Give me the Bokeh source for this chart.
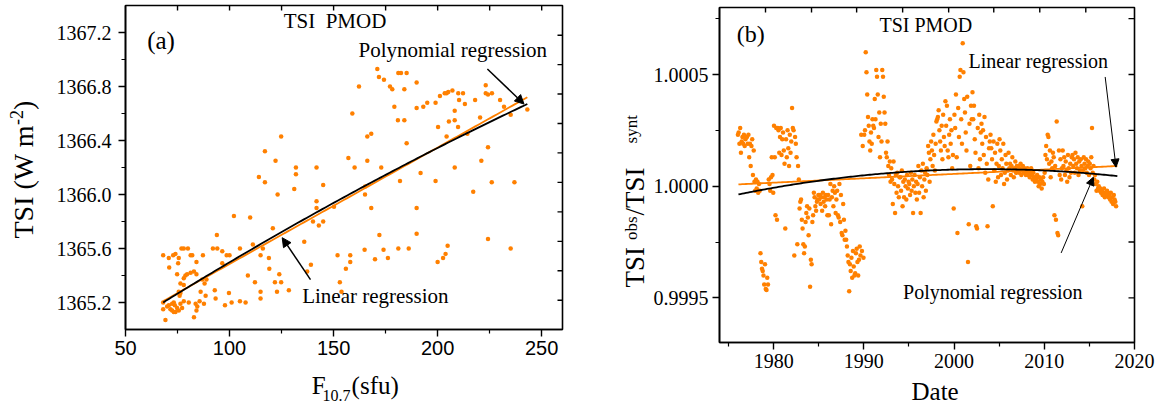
import numpy as np
from bokeh.plotting import figure
from bokeh.models import (Range1d, FixedTicker, Label, Arrow, NormalHead,
                          PrintfTickFormatter)
from bokeh.core.properties import value
from bokeh.layouts import row, column
from bokeh.embed import file_html
from bokeh.resources import INLINE

ORANGE = "#FF8000"
SERIF = "Liberation Serif"
SANS = "Liberation Sans"
MID = 0.3375  # distance (em) from the alphabetic baseline up to the middle of the text box

# ---------------- Panel (a): TSI vs F10.7 ----------------
f107 = [171.0, 171.8, 174.2, 177.1, 178.2, 179.2, 181.1, 182.4, 185.1, 184.0,
        189.9, 180.9, 184.0, 185.1, 162.2, 159.0, 166.2, 168.1, 172.9, 166.2,
        160.1, 157.1, 165.2, 165.1, 168.1, 181.9, 189.9, 189.9, 191.8, 189.9,
        193.1, 195.0, 199.0, 201.1, 203.4, 204.3, 205.1, 207.1, 209.9, 212.2,
        210.3, 213.1, 218.0, 223.1, 223.1, 224.2, 226.1, 230.0, 231.9, 235.1,
        243.1, 208.2, 208.2, 205.4, 200.2, 204.3, 209.8, 214.3, 220.4, 224.2,
        221.0, 208.2, 199.0, 226.0, 236.9, 217.1, 224.2, 235.1, 204.8, 203.8,
        202.6, 200.0, 186.1, 181.1, 174.0, 176.1, 169.9, 164.9, 172.0, 158.0,
        158.0, 155.9, 153.0, 151.9, 153.8, 124.8, 117.0, 122.1, 114.1, 117.0,
        123.1, 131.9, 131.9, 131.1, 141.8, 145.0, 141.8, 141.8, 150.2, 145.0,
        140.1, 142.9, 135.9, 139.1, 137.3, 120.8, 116.0, 114.9, 118.9, 119.1,
        123.9, 121.8, 124.8, 122.8, 128.5, 112.2, 114.9, 114.9, 108.8, 105.0,
        107.7, 101.0, 99.7, 97.8, 93.9, 92.0, 94.1, 96.5, 98.6, 100.0,
        96.5, 105.0, 109.9, 102.1, 111.2, 92.9, 93.3, 88.9, 88.5, 87.7,
        85.6, 86.1, 88.0, 86.9, 84.1, 82.9, 81.3, 79.6, 78.0, 76.4,
        75.6, 78.0, 68.1, 70.8, 71.0, 72.9, 74.0, 75.3, 75.6, 76.9,
        78.0, 80.0, 81.3, 82.1, 84.1, 87.2, 74.8, 78.8, 68.1, 68.1,
        69.2, 70.0, 70.8, 71.6, 72.4, 73.2, 73.7, 74.0, 74.8, 75.6,
        76.4, 77.2, 78.0, 80.4, 83.7, 84.5, 84.1, 82.9, 76.4, 76.0,
        73.2, 72.4]
tsi = [1366.93, 1366.87, 1366.85, 1366.80, 1366.78, 1366.65, 1366.90, 1366.90, 1366.90, 1366.78,
       1366.83, 1366.55, 1366.55, 1366.38, 1366.80, 1366.60, 1366.43, 1366.45, 1366.20, 1366.25,
       1366.20, 1366.27, 1366.06, 1366.00, 1365.90, 1366.10, 1365.90, 1365.71, 1366.16, 1366.64,
       1366.65, 1366.68, 1366.68, 1366.73, 1366.75, 1366.75, 1366.76, 1366.77, 1366.75, 1366.75,
       1366.70, 1366.67, 1366.70, 1366.81, 1366.75, 1366.74, 1366.75, 1366.70, 1366.65, 1366.59,
       1366.63, 1366.62, 1366.55, 1366.54, 1366.50, 1366.43, 1366.50, 1366.45, 1366.57, 1366.35,
       1366.25, 1366.20, 1366.10, 1366.09, 1366.09, 1366.02, 1365.67, 1365.60, 1365.62, 1365.56,
       1365.53, 1365.50, 1365.60, 1365.60, 1365.59, 1365.53, 1365.52, 1365.59, 1365.70, 1365.55,
       1365.50, 1365.45, 1365.35, 1365.55, 1365.28, 1366.43, 1366.32, 1366.25, 1366.13, 1366.09,
       1366.00, 1366.20, 1366.15, 1366.04, 1366.20, 1366.07, 1365.95, 1365.90, 1365.91, 1365.80,
       1365.80, 1365.77, 1365.65, 1365.48, 1365.43, 1365.75, 1365.60, 1365.55, 1365.53, 1365.45,
       1365.41, 1365.35, 1365.35, 1365.28, 1365.29, 1365.35, 1365.28, 1365.23, 1365.40, 1365.21,
       1365.20, 1365.20, 1365.27, 1365.18, 1365.70, 1365.60, 1365.60, 1365.58, 1365.55, 1365.55,
       1365.49, 1365.60, 1365.83, 1365.84, 1365.63, 1365.29, 1365.23, 1365.37, 1365.25, 1365.19,
       1365.21, 1365.28, 1365.34, 1365.37, 1365.41, 1365.43, 1365.42, 1365.41, 1365.38, 1365.34,
       1365.28, 1365.33, 1365.55, 1365.53, 1365.46, 1365.55, 1365.56, 1365.49, 1365.53, 1365.60,
       1365.60, 1365.60, 1365.55, 1365.55, 1365.50, 1365.55, 1365.41, 1365.40, 1365.20, 1365.15,
       1365.07, 1365.17, 1365.18, 1365.15, 1365.14, 1365.20, 1365.18, 1365.13, 1365.16, 1365.14,
       1365.19, 1365.16, 1365.21, 1365.20, 1365.19, 1365.17, 1365.14, 1365.09, 1365.27, 1365.25,
       1365.13, 1365.19]
# regression coefficients (np.polyval order)
lin_a = [0.008629, 1364.6224]
poly_a = [-6.51e-6, 0.010427, 1364.52014]
fit_a_range = [68.1, 243.1]

# ---------------- Panel (b): TSI obs / TSI synt vs date ----------------
start_year = 1976
# monthly deviation of the ratio from 1, in units of 1e-4
ratio_dev_e4 = [
    2.3, 2.4, 1.9, 2.6, 1.5, 2.0, 2.2, 1.9, 2.3, 1.8, 2.1, 2.2,          # 1976
    2.2, 1.9, 2.3, 1.3, 1.9, 0.9, 1.8, 2.1, 0.5, 1.6, 0.2, -0.2,         # 1977
    0.3, -0.1, 0.2, -0.3, 0.1, -0.2, -3.0, -3.4, -3.7, -3.8, -4.0, -4.4, # 1978
    -3.5, -4.6, -4.65, -4.1, -4.4, 0.3, 0.1, -0.2, 0.4, 1.3, 0.5, -0.3,  # 1979
    2.7, 1.3, -1.3, 2.6, -1.5, 2.6, 2.5, 1.5, 2.2, 2.6, 1.4, 2.1,        # 1980
    2.4, 1.6, 1.0, -1.9, 2.1, 1.3, 2.5, 1.7, 0.9, 2.3, 1.5, 2.0,         # 1981
    3.5, 2.6, 2.5, -3.1, 2.2, 1.9, 1.3, -2.6, 0.9, 0.3, -1.0, -0.7,      # 1982
    -0.6, -1.5, -1.9, -2.6, -3.0, -2.7, -1.6, -1.2, -0.9, -1.4, -2.2, -1.0,  # 1983
    -4.5, -3.3, -3.5, -1.6, -1.3, -0.3, -0.5, -0.9, -1.1, -0.7, -0.6, -0.4,  # 1984
    -0.6, -0.4, -0.8, -0.5, -1.1, -0.3, -0.7, -0.5, -0.9, -0.4, -0.6, -1.3,  # 1985
    -0.4, -1.3, -0.6, 0.1, -1.7, -0.5, -0.2, -0.9, 0.0, -0.3, -1.2, -0.6,    # 1986
    -0.2, -1.3, -1.4, 0.1, -1.6, -0.4, -2.1, -2.2, -0.8, -1.5, -2.4, -2.0,   # 1987
    -2.4, -2.7, -3.1, -3.4, -4.7, -3.5, -3.8, -3.2, -4.1, -2.9, -3.6, -4.0,  # 1988
    -3.9, -3.0, -2.8, -3.4, -4.0, -3.3, -2.7, -3.1, 2.3, -2.9, 1.8, -3.2,    # 1989
    2.3, 2.5, 6.0, 5.1, 4.1, 3.1, 2.7, 2.0, 1.6, 2.4, 1.9, 3.0,          # 1990
    2.7, 2.6, 3.9, 3.0, 5.2, 4.9, 4.1, 2.2, 3.3, 1.3, 2.8, 2.0,          # 1991
    5.2, 4.9, 4.0, 3.3, 2.8, 1.5, 1.3, 2.0, 0.9, 0.5, 1.1, 0.2,          # 1992
    0.8, 0.3, -0.8, 1.1, 0.1, -1.2, 0.5, -0.3, 0.6, 0.0, -0.5, 0.4,      # 1993
    0.4, -0.2, 0.7, -0.9, 0.2, -0.5, 0.3, 0.0, -0.6, 0.5, -0.1, 0.2,     # 1994
    0.1, -0.4, 0.6, -0.2, 0.3, -1.2, 0.0, 0.5, -0.3, 0.2, -0.6, 0.1,     # 1995
    0.9, -0.3, 0.4, -1.2, 0.7, 0.0, 1.0, -0.5, 0.3, 0.6, -0.2, 0.8,      # 1996
    0.5, 1.8, 1.5, 0.2, 1.2, 2.0, 1.6, 0.9, 2.3, 1.4, 0.7, 1.9,          # 1997
    2.9, 3.0, 3.1, 3.4, 2.5, 2.0, 1.6, 2.7, 1.2, 3.2, 2.2, 1.8,          # 1998
    3.8, 2.7, 3.6, 1.6, 1.3, 2.3, 3.0, 1.9, 2.5, 0.8, 1.4, -1.0,         # 1999
    3.2, 2.6, 4.1, 1.3, -2.1, 3.5, 2.2, 4.9, 5.2, 3.0, 1.9, 6.4,         # 2000
    5.1, 3.9, 3.3, 2.4, 1.6, 4.0, -3.4, -1.7, 2.8, 0.9, 3.6, 3.0,        # 2001
    4.2, 3.0, 3.6, 2.1, 1.5, -1.8, -1.9, 2.6, 0.8, 3.2, 1.2, 2.4,        # 2002
    2.8, 1.9, 2.5, 1.4, 3.1, 0.6, 2.2, 1.0, -1.8, 0.3, 1.7, 2.0,         # 2003
    2.3, 1.7, 1.2, -0.9, 2.0, 0.7, 1.5, 0.2, 1.0, 1.9, 0.4, 0.9,         # 2004
    2.1, 1.6, 0.5, 1.2, 0.8, 1.9, 0.1, 0.6, 1.4, 1.0, 0.3, 0.7,          # 2005
    1.5, 0.8, 1.0, 0.5, 0.9, 1.3, 0.7, 0.4, 0.8, 1.1, 0.6, 0.9,          # 2006
    0.7, 0.9, 0.6, 0.8, 1.0, 0.5, 0.7, 0.9, 0.6, 0.8, 0.7, 0.5,          # 2007
    0.6, 0.8, 0.5, 0.7, 0.4, 0.6, 0.8, 0.5, 0.3, 0.6, 0.4, 0.2,          # 2008
    0.4, 0.3, 0.5, 0.2, 0.0, 0.4, 0.1, 0.3, -0.1, 0.2, 0.4, 0.1,         # 2009
    0.6, 1.4, 1.8, 1.2, 2.3, 2.2, 1.0, 1.6, 0.4, 1.1, 0.8, 1.5,          # 2010
    1.3, -1.3, 0.9, -1.5, 2.9, -2.1, -2.2, 1.6, 0.5, 1.2, 0.3, 0.8,      # 2011
    1.6, 0.9, 1.3, 0.5, 1.1, 0.7, 0.2, 1.4, 0.8, 0.4, 1.0, 0.6,          # 2012
    1.3, 1.4, 0.9, 1.2, 0.6, 1.5, 1.0, 0.8, 1.3, 0.5, 1.1, 0.7,          # 2013
    1.2, 0.9, -0.9, 0.7, 1.3, 1.0, 0.8, 1.2, 0.6, 0.9, 1.1, 0.5,         # 2014
    1.0, 0.8, 1.3, 2.6, 0.6, 0.9, 0.3, 0.5, 0.1, -0.2, 0.2, -0.1,        # 2015
    0.0, -0.2, -0.1, -0.3, -0.2, -0.4, -0.3, -0.1, -0.5, -0.3, -0.4, -0.2,   # 2016
    -0.3, -0.5, -0.4, -0.6, -0.3, -0.7, -0.5, -0.8, -0.4, -0.6, -0.7, -0.9,  # 2017
]
# regression coefficients in 1e-4 units, as a function of (year - fit_b_t0)
lin_b_e4 = [0.0196, 0.08]
poly_b_e4 = [-0.001493, 0.08223, -0.37]
fit_b_t0 = 1976.1
fit_b_range = [1976.1, 2018.1]

dates = start_year + (np.arange(len(ratio_dev_e4)) + 0.5) / 12.0
ratio = 1.0 + np.array(ratio_dev_e4) * 1e-4

# tick sets
a_x_ticks = [50, 100, 150, 200, 250]
a_x_minor = [75, 125, 175, 225]
a_y_ticks = [1365.2, 1365.6, 1366.0, 1366.4, 1366.8, 1367.2]
a_y_minor = [1365.4, 1365.8, 1366.2, 1366.6, 1367.0]
a_top_ticks = [75, 100, 125, 150, 175, 200, 225, 250]
a_right_ticks = [1365.217, 1365.435, 1365.653, 1365.871, 1366.090,
                 1366.308, 1366.526, 1366.744, 1366.962, 1367.180]
b_x_ticks = [1980, 1990, 2000, 2010, 2020]
b_x_minor = [1975, 1985, 1995, 2005, 2015]
b_y_ticks = [0.9995, 1.0, 1.0005]
b_y_minor = [0.99975, 1.00025, 1.00075]
b_top_ticks = [1979.1, 1984.2, 1989.2, 1994.3, 1999.4, 2004.4, 2009.5, 2014.6]
b_right_ticks = [0.9995, 0.99975, 1.0, 1.00025, 1.0005, 1.00075]

# ---------------- helpers ----------------
ADV = {'T': .611, 'S': .556, 'I': .333, ' ': .25, '(': .333, ')': .333, 'W': .944,
       'm': .778, '-': .333, '2': .5, 'o': .5, 'b': .5, 's': .389, '/': .278,
       'y': .5, 'n': .5, 't': .278, 'F': .556, '1': .5, '0': .5, '.': .25,
       '7': .5, 'f': .333, 'u': .5, 'D': .722, 'a': .444, 'e': .444}


def text_w(s, size):
    return sum(ADV.get(c, 0.5) for c in s) * size


def strip(w, h):
    s = figure(width=w, height=h, x_range=Range1d(0, w), y_range=Range1d(0, h),
               title=None, min_border=0, min_border_left=0, min_border_right=0,
               min_border_top=0, min_border_bottom=0,
               x_axis_location=None, y_axis_location=None,
               output_backend="svg", toolbar_location=None)
    s.grid.visible = False
    s.outline_line_color = None
    s.background_fill_color = "white"
    s.border_fill_color = "white"
    return s


def rich_text(p, runs, x0, y0, vertical=False, align="left"):
    """runs: (text, font size px, baseline shift px, extra gap after px);
    (x0, y0) is the baseline start point in strip pixels."""
    pos = 0.0
    for text, size, shift, gap in runs:
        mid = MID * size
        if vertical:
            x, y, ang = x0 - shift - mid, y0 + pos, np.pi / 2
        else:
            x, y, ang = x0 + pos, y0 + shift + mid, 0.0
        p.text(x=[x], y=[y], text=[text], angle=ang, text_font=value(SERIF),
               text_font_size=f"{size}px", text_color="black",
               text_baseline="middle", text_align=align)
        pos += text_w(text, size) + gap


def data_label(p, ppu, x, y, text, size, font=SERIF, align="left"):
    """(x, y): baseline start in data units; ppu: screen px per y data unit."""
    p.add_layout(Label(x=x, y=y + MID * size / ppu, text=text, text_font=font,
                       text_font_size=f"{size}px", text_color="black",
                       text_baseline="middle", text_align=align))


def style_main_axis(ax, ticks, minor, font, fmt=None, standoff=5):
    ax.ticker = FixedTicker(ticks=ticks, minor_ticks=minor)
    ax.major_tick_out = 7
    ax.major_tick_in = 0
    ax.minor_tick_out = 4
    ax.minor_tick_in = 0
    ax.axis_line_width = 1.6
    ax.major_tick_line_width = 1.4
    ax.minor_tick_line_width = 1.2
    ax.major_label_text_font = font
    ax.major_label_text_font_size = "20px"
    ax.major_label_text_color = "black"
    ax.major_label_standoff = standoff
    if fmt is not None:
        ax.formatter = PrintfTickFormatter(format=fmt)


def mirror_ticks(p, top_ticks, right_ticks, top_len, right_len):
    yt = p.y_range.end
    xr = p.x_range.end
    p.ray(x=top_ticks, y=[yt] * len(top_ticks), length=top_len, length_units="screen",
          angle=-np.pi / 2, line_color="black", line_width=1.4)
    p.ray(x=[xr] * len(right_ticks), y=right_ticks, length=right_len, length_units="screen",
          angle=np.pi, line_color="black", line_width=1.4)


def base_figure(fw, fh, left, right, top, bottom, xr, yr):
    p = figure(frame_width=fw, frame_height=fh, min_border_left=left,
               min_border_right=right, min_border_top=top,
               min_border_bottom=bottom, x_range=xr, y_range=yr, title=None,
               output_backend="svg", toolbar_location=None)
    p.xgrid.visible = False
    p.ygrid.visible = False
    p.outline_line_color = "black"
    p.outline_line_width = 1.6
    p.background_fill_color = "white"
    p.border_fill_color = "white"
    return p


# ---------------- Panel (a) figure ----------------
A_FH, A_Y = 324, (1365.0, 1367.4)
ppu_a = A_FH / (A_Y[1] - A_Y[0])
p1 = base_figure(437, A_FH, 80, 51, 5, 38, Range1d(50, 260), Range1d(*A_Y))
style_main_axis(p1.xaxis[0], a_x_ticks, a_x_minor, SANS, standoff=4)
style_main_axis(p1.yaxis[0], a_y_ticks, a_y_minor, SERIF, fmt="%.1f", standoff=7)
mirror_ticks(p1, a_top_ticks, a_right_ticks, 5, 5)

p1.scatter(f107, tsi, size=4.5, fill_color=ORANGE, line_color=None)
xa = np.linspace(fit_a_range[0], fit_a_range[1], 120)
p1.line(xa, np.polyval(lin_a, xa), line_color=ORANGE, line_width=1.8)
p1.line(xa, np.polyval(poly_a, xa), line_color="black", line_width=1.8)

data_label(p1, ppu_a, 60.4, 1367.076, "(a)", 25)
data_label(p1, ppu_a, 126.0, 1367.236, "TSI \u00a0PMOD", 21)
data_label(p1, ppu_a, 162.0, 1367.015, "Polynomial regression", 21)
data_label(p1, ppu_a, 134.9, 1365.197, "Linear regression", 21)
p1.add_layout(Arrow(end=NormalHead(size=9, fill_color="black", line_color="black"),
                    x_start=223.9, y_start=1366.93, x_end=241.5, y_end=1366.67,
                    line_color="black", line_width=1.5))
p1.add_layout(Arrow(end=NormalHead(size=9, fill_color="black", line_color="black"),
                    x_start=138.9, y_start=1365.37, x_end=125.3, y_end=1365.68,
                    line_color="black", line_width=1.5))

ylab1 = strip(45, 405)
rich_text(ylab1, [("TSI (W m", 28, 0, 0), ("-2", 18, 10, 0), (")", 28, 0, 0)],
          32, 167, vertical=True)
xlab1 = strip(568, 38)
rich_text(xlab1, [("F", 25, 0, 0), ("10.7", 16, -7.5, 10), ("(sfu)", 25, 0, 0)], 242, 12)

# ---------------- Panel (b) figure ----------------
B_FH, B_Y = 335, (0.9993, 1.0008)
ppu_b = B_FH / (B_Y[1] - B_Y[0])
p2 = base_figure(415, B_FH, 68, 22, 7, 35, Range1d(1974, 2020), Range1d(*B_Y))
style_main_axis(p2.xaxis[0], b_x_ticks, b_x_minor, SERIF, fmt="%d", standoff=4)
style_main_axis(p2.yaxis[0], b_y_ticks, b_y_minor, SERIF, fmt="%.4f", standoff=4)
mirror_ticks(p2, b_top_ticks, b_right_ticks, 5, 6)

p2.scatter(dates, ratio, size=4.5, fill_color=ORANGE, line_color=None)
xb = np.linspace(fit_b_range[0], fit_b_range[1], 200)
p2.line(xb, 1.0 + np.polyval(lin_b_e4, xb - fit_b_t0) * 1e-4, line_color=ORANGE, line_width=1.8)
p2.line(xb, 1.0 + np.polyval(poly_b_e4, xb - fit_b_t0) * 1e-4, line_color="black", line_width=1.8)

data_label(p2, ppu_b, 1975.91, 1.000644, "(b)", 24)
data_label(p2, ppu_b, 1991.73, 1.000691, "TSI PMOD", 20)
data_label(p2, ppu_b, 2001.61, 1.000529, "Linear regression", 20)
data_label(p2, ppu_b, 1994.35, 0.999495, "Polynomial regression", 20)
p2.add_layout(Arrow(end=NormalHead(size=8, fill_color="black", line_color="black"),
                    x_start=2016.75, y_start=1.000489, x_end=2017.95, y_end=1.000085,
                    line_color="black", line_width=1))
p2.add_layout(Arrow(end=NormalHead(size=8, fill_color="black", line_color="black"),
                    x_start=2011.87, y_start=0.999701, x_end=2015.44, y_end=1.00004,
                    line_color="black", line_width=1))

ylab2 = strip(37, 405)
rich_text(ylab2, [("TSI", 27, 0, 7), ("obs", 17, 7, 1), ("/TSI", 27, 0, 24), ("synt", 17, 7, 0)],
          31, 118, vertical=True)
xlab2 = strip(505, 28)
rich_text(xlab2, [("Date", 25, 0, 0)], 263, 5.6, align="center")

layout = row(ylab1, column(p1, xlab1), ylab2, column(p2, xlab2))
open("out.html", "w").write(file_html(layout, INLINE))
